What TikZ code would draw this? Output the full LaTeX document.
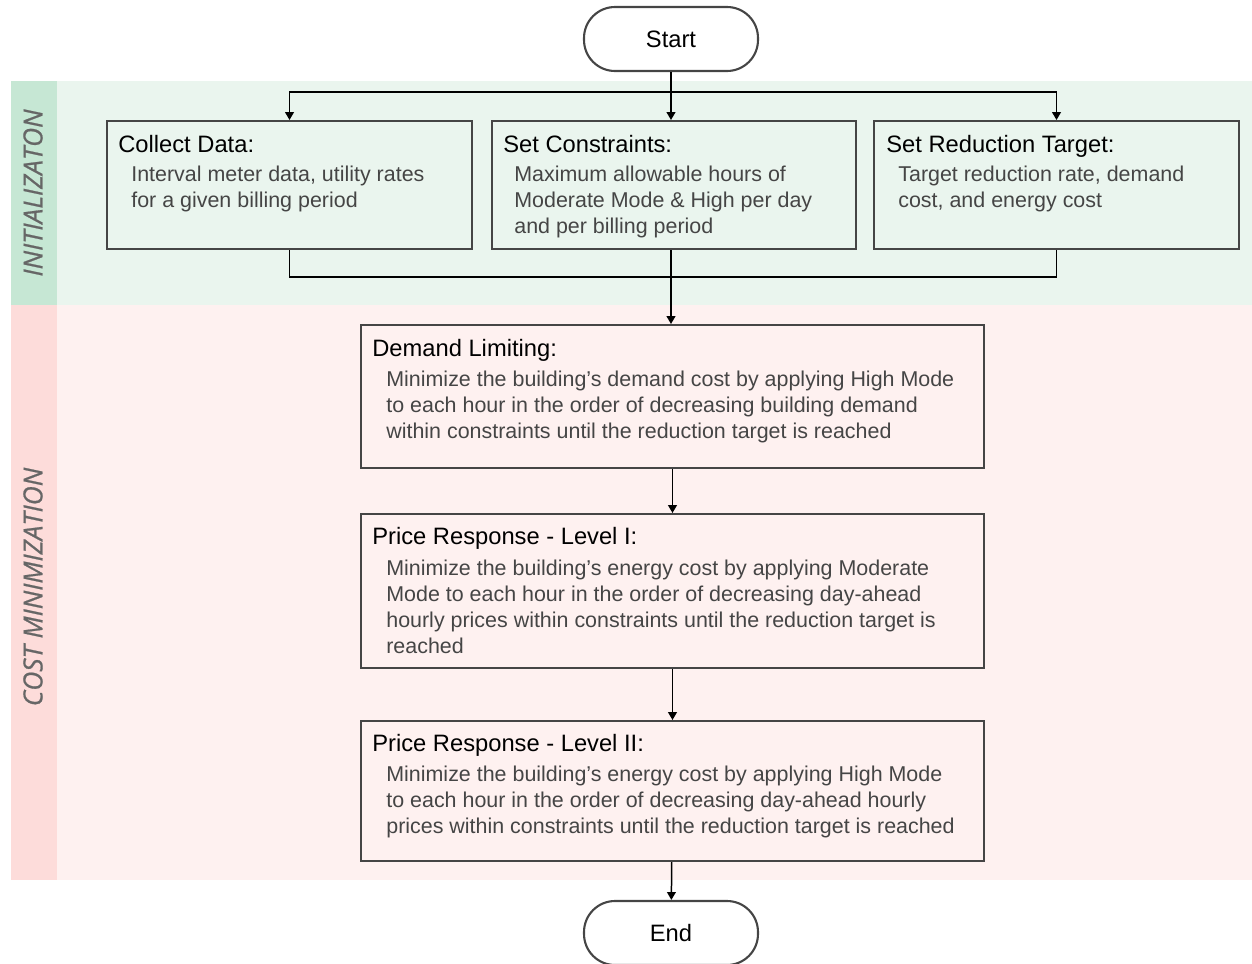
\documentclass[tikz,border=0pt]{standalone}
\usepackage{fontspec}
\setmainfont{Liberation Sans}
\newfontfamily\sidefont[FakeBold=0.7]{Open Sans}
\usetikzlibrary{arrows.meta,positioning}

\definecolor{initside}{HTML}{C6E7D4}
\definecolor{initbg}{HTML}{EAF5EE}
\definecolor{costside}{HTML}{FDDCDA}
\definecolor{costbg}{HTML}{FEF1F0}
\definecolor{boxline}{HTML}{454545}
\definecolor{bodygray}{HTML}{454545}
\definecolor{sidegray}{HTML}{666666}

\tikzset{
  stepbox/.style={draw=boxline, line width=1.2pt, anchor=north west, inner sep=0pt},
  terminal/.style={draw=boxline, line width=1.2pt, rounded corners=0.62cm,
    minimum width=3.48cm, minimum height=1.28cm, inner sep=0pt,
    font=\fontsize{13.5}{16}\selectfont},
  boxtitle/.style={anchor=north west, inner sep=0pt, font=\fontsize{13.5}{16}\selectfont},
  boxbody/.style={anchor=north west, inner sep=0pt, align=left, text=bodygray,
    font=\fontsize{12.2}{14.74}\selectfont},
  sidelabel/.style={rotate=90, inner sep=0pt, text=sidegray,
    font=\sidefont\itshape\fontsize{15}{18}\selectfont},
  flow/.style={-{Triangle[length=4.5pt,width=5pt]}, line width=0.85pt},
  link/.style={line width=0.85pt},
}

\begin{document}
\begin{tikzpicture}[x=0.02cm, y=-0.02cm]
  \useasboundingbox (0,0) rectangle (1252,964);

  % bands
  \fill[initbg] (11,81) rectangle (1252,305);
  \fill[initside] (11,81) rectangle (57,305);
  \fill[costbg] (11,305) rectangle (1252,880);
  \fill[costside] (11,305) rectangle (57,880);
  \node[sidelabel] (initlabel) at (33,193) {INITIALIZATON};
  \node[sidelabel] (costlabel) at (33,587) {COST MINIMIZATION};

  % terminals
  \node[terminal] (start) at (671,39) {Start};
  \node[terminal] (stop) at (671,933) {End};

  % initialization boxes
  \node[stepbox, minimum width=7.3cm, minimum height=2.56cm] (collect) at (106,120) {};
  \node[stepbox, minimum width=7.28cm, minimum height=2.56cm] (constr) at (491,120) {};
  \node[stepbox, minimum width=7.3cm, minimum height=2.56cm] (setred) at (873,120) {};

  \node[boxtitle] (collecttitle) at (118,135) {Collect Data:};
  \node[boxbody] (collectbody) at (131,166) {Interval meter data, utility rates\\for a given billing period};
  \node[boxtitle] (constrtitle) at (503,135) {Set Constraints:};
  \node[boxbody] (constrbody) at (514,166) {Maximum allowable hours of\\Moderate Mode \& High per day\\and per billing period};
  \node[boxtitle] (setredtitle) at (886,135) {Set Reduction Target:};
  \node[boxbody] (setredbody) at (898,166) {Target reduction rate, demand\\cost, and energy cost};

  % cost minimization boxes
  \node[stepbox, minimum width=12.46cm, minimum height=2.86cm] (demand) at (360,324) {};
  \node[stepbox, minimum width=12.46cm, minimum height=3.08cm] (prone) at (360,513) {};
  \node[stepbox, minimum width=12.46cm, minimum height=2.8cm] (prtwo) at (360,720) {};

  \node[boxtitle] (demandtitle) at (372,339) {Demand Limiting:};
  \node[boxbody] (demandbody) at (386,371) {Minimize the building’s demand cost by applying High Mode\\to each hour in the order of decreasing building demand\\within constraints until the reduction target is reached};
  \node[boxtitle] (pronetitle) at (372,527) {Price Response - Level I:};
  \node[boxbody] (pronebody) at (386,560) {Minimize the building’s energy cost by applying Moderate\\Mode to each hour in the order of decreasing day-ahead\\hourly prices within constraints until the reduction target is\\reached};
  \node[boxtitle] (prtwotitle) at (372,734) {Price Response - Level II:};
  \node[boxbody] (prtwobody) at (386,766) {Minimize the building’s energy cost by applying High Mode\\to each hour in the order of decreasing day-ahead hourly\\prices within constraints until the reduction target is reached};

  % connectors
  \coordinate (split) at (671,92);
  \coordinate (merge) at (671,277);
  \draw[link] (start) -- (split);
  \draw[flow] (split) -| (collect);
  \draw[flow] (split) -| (setred);
  \draw[flow] (split) -- (split |- constr.north);
  \draw[link] (collect) |- (merge);
  \draw[link] (setred) |- (merge);
  \draw[flow] (split |- constr.south) -- (split |- demand.north);
  \draw[flow] (demand) -- (prone);
  \draw[flow] (prone) -- (prtwo);
  \draw[flow] (prtwo) -- (stop);
\end{tikzpicture}
\end{document}
